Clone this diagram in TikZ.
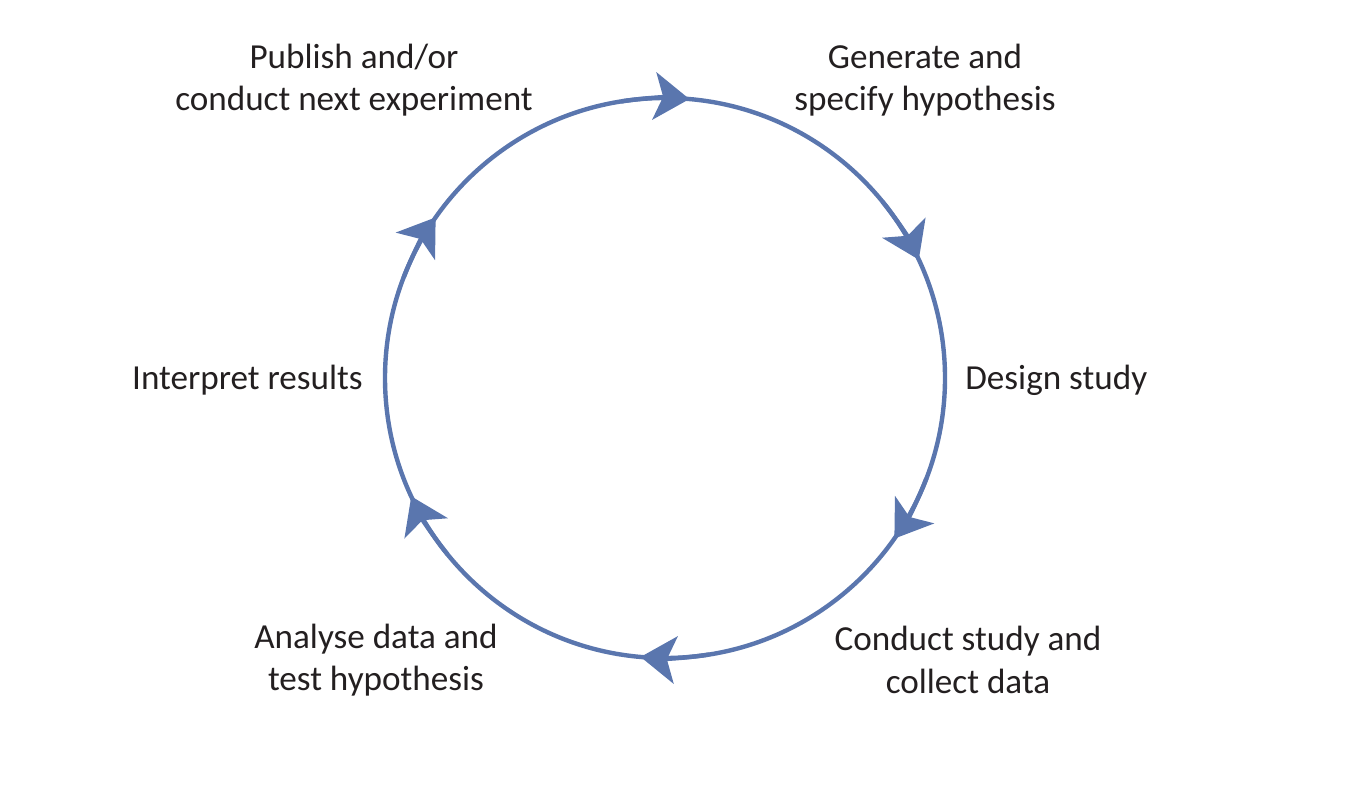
\documentclass[tikz,border=0pt]{standalone}
\usepackage{fontspec}
\setmainfont{Carlito}
\usepackage{xcolor}
\usepackage{tikz}
\usetikzlibrary{positioning, arrows.meta, calc}
\definecolor{cycleBlue}{HTML}{5A76AE}
\definecolor{cycleText}{HTML}{231F20}

\begin{document}
\begin{tikzpicture}[
  every node/.style={font=\fontsize{20}{24}\selectfont, text=cycleText},
  steplabel/.style={align=center, inner sep=0pt},
  cycleline/.style={draw=cycleBlue, line width=2.5pt},
  cyclearrow/.style={
    cycleBlue, line width=2.5pt,
    -{Stealth[length=20pt, width=27pt, inset=5pt]}
  },
]
\useasboundingbox (0,0) rectangle (27.2,16.04);

% === CYCLE ===
\coordinate (c) at (13.3,8.48);
\draw[cycleline] (c) circle[radius=5.6cm];
\foreach \ang in {85,25,-35,-95,-155,145}
  \draw[cyclearrow] ($(c)+(\ang+14:5.6)$) arc[start angle=\ang+14, end angle=\ang, radius=5.6cm];

% === STEP LABELS ===
\node[steplabel] (publish) at (7.08,14.44) {Publish and/or\\conduct next experiment};
\node[steplabel] (generate) at (18.5,14.44) {Generate and\\specify hypothesis};
\node[steplabel, anchor=west] (design) at (19.3,8.44) {Design study};
\node[steplabel] (conduct) at (19.36,2.84) {Conduct study and\\collect data};
\node[steplabel] (analyse) at (7.52,2.84) {Analyse data and\\test hypothesis};
\node[steplabel, anchor=east] (interpret) at (7.26,8.44) {Interpret results};

\end{tikzpicture}
\end{document}
